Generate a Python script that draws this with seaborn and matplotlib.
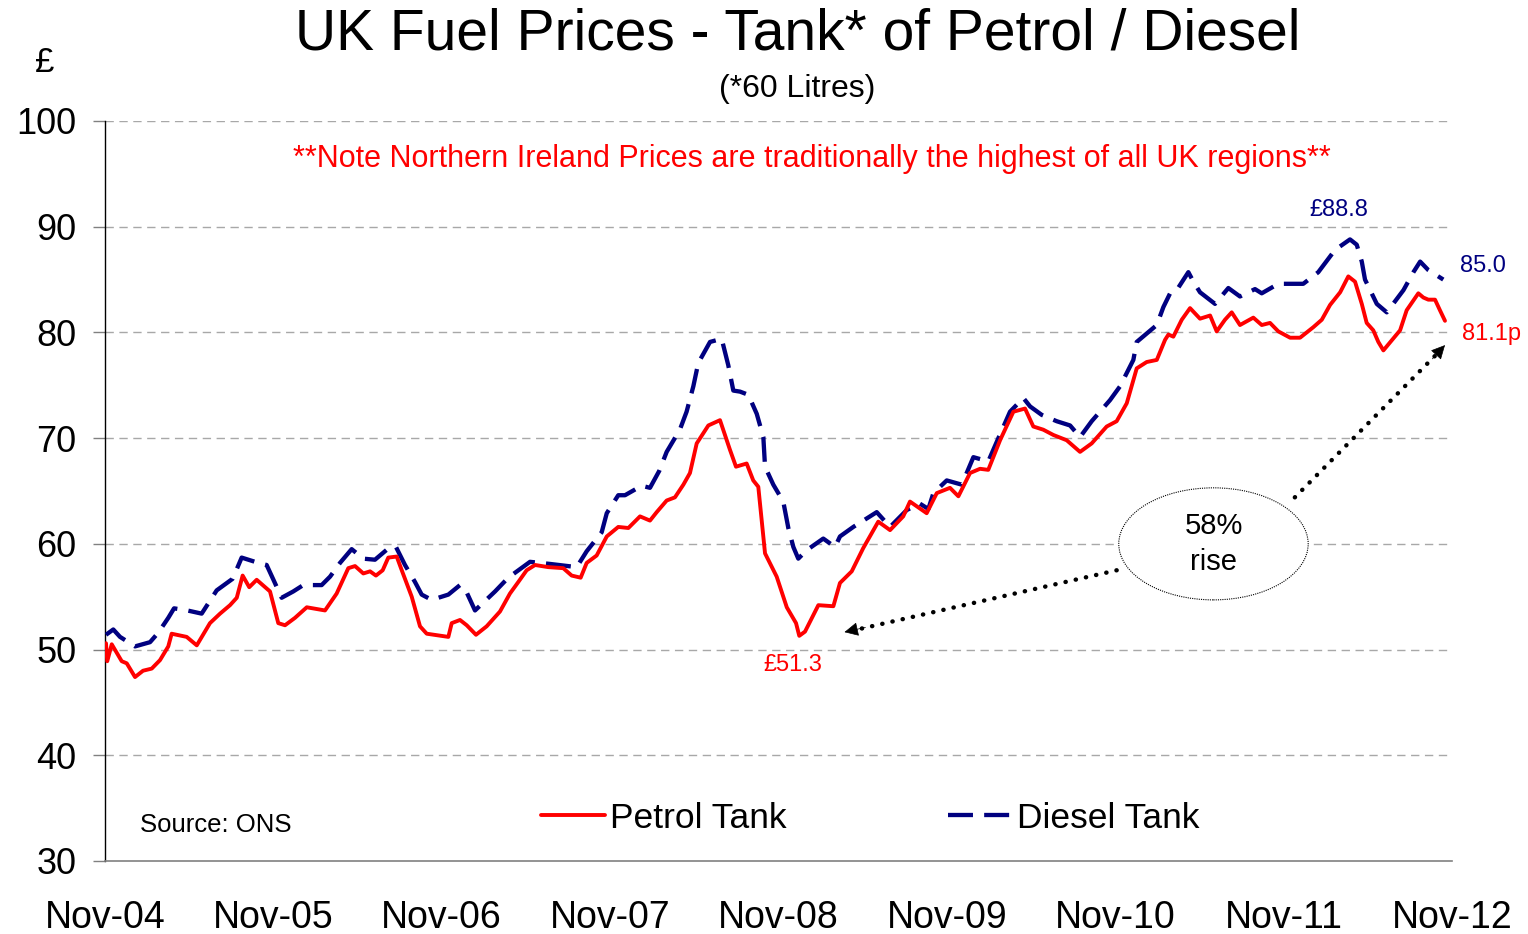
import matplotlib
matplotlib.use("Agg")
import matplotlib.pyplot as plt
from matplotlib.patches import Ellipse
import seaborn as sns
import pandas as pd

# ---- data (months since Nov-2004, £ per 60-litre tank) ----
petrol_month = [0.07, 0.16, 0.48, 1.19, 1.55, 2.14, 2.71, 3.33, 3.92, 4.51, 4.75, 5.82, 6.54, 7.48,
                8.20, 8.91, 9.39, 9.81, 10.28, 10.81, 11.76, 12.35, 12.83, 13.54, 14.38, 15.68,
                16.51, 17.34, 17.82, 18.41, 18.89, 19.31, 19.79, 20.19, 20.79, 21.15, 21.86, 22.45,
                22.93, 24.47, 24.71, 25.30, 25.78, 26.44, 27.20, 28.15, 28.86, 29.46, 30.05, 30.65,
                31.59, 32.66, 33.26, 33.90, 34.33, 35.04, 35.76, 36.58, 37.30, 38.13, 38.84, 39.32,
                40.03, 40.62, 41.22, 41.69, 42.17, 43.00, 43.83, 44.54, 44.97, 45.73, 46.20, 46.56,
                47.04, 47.87, 48.59, 49.25, 49.48, 49.89, 50.84, 51.91, 52.38, 53.22, 54.04, 55.11,
                55.95, 56.89, 57.37, 58.56, 59.28, 60.22, 60.82, 61.65, 62.36, 62.95, 63.79, 64.74,
                65.57, 66.16, 66.87, 67.59, 68.54, 69.49, 70.32, 71.39, 72.10, 72.82, 73.53, 74.24,
                74.96, 75.55, 75.79, 76.14, 76.74, 77.33, 78.04, 78.76, 79.23, 79.82, 80.30, 80.89,
                81.84, 82.44, 83.03, 83.62, 84.46, 85.17, 86.12, 86.72, 87.31, 88.03, 88.61, 89.09,
                89.57, 89.92, 90.39, 90.75, 91.11, 92.30, 92.77, 93.60, 93.96, 94.31, 94.79, 95.14,
                95.50]
petrol_tank = [50.6, 48.9, 50.5, 48.9, 48.7, 47.4, 48.0, 48.2, 49.0, 50.3, 51.5, 51.2, 50.4, 52.5,
               53.4, 54.2, 54.9, 57.0, 55.9, 56.6, 55.5, 52.5, 52.3, 53.0, 54.0, 53.7,
               55.3, 57.7, 57.9, 57.2, 57.4, 57.0, 57.5, 58.7, 58.8, 57.5, 55.0, 52.2,
               51.5, 51.2, 52.5, 52.8, 52.3, 51.4, 52.2, 53.6, 55.3, 56.4, 57.5, 58.0,
               57.8, 57.7, 57.0, 56.8, 58.2, 58.9, 60.7, 61.6, 61.5, 62.6, 62.2, 63.0,
               64.1, 64.4, 65.6, 66.7, 69.5, 71.2, 71.7, 68.9, 67.3, 67.6, 66.0, 65.4,
               59.1, 56.9, 54.0, 52.5, 51.3, 51.7, 54.2, 54.1, 56.3, 57.4, 59.6, 62.1,
               61.3, 62.6, 64.0, 62.9, 64.8, 65.3, 64.5, 66.7, 67.1, 67.0, 69.8, 72.5,
               72.8, 71.1, 70.8, 70.3, 69.8, 68.7, 69.5, 71.1, 71.6, 73.3, 76.6, 77.2,
               77.4, 79.3, 79.8, 79.6, 81.2, 82.3, 81.3, 81.6, 80.1, 81.2, 81.9, 80.7,
               81.4, 80.7, 80.9, 80.1, 79.5, 79.5, 80.5, 81.2, 82.6, 83.8, 85.3, 84.8,
               82.7, 80.9, 80.2, 79.1, 78.3, 80.2, 82.1, 83.7, 83.3, 83.1, 83.1, 82.1,
               81.1]

diesel_month = [0.07, 0.59, 1.07, 2.14, 3.21, 3.80, 4.51, 4.92, 5.87, 6.89, 7.96, 9.10, 9.74, 9.98,
                10.93, 11.52, 12.04, 12.59, 13.42, 14.13, 15.44, 16.04, 16.75, 17.58, 18.41, 19.24,
                20.31, 20.74, 21.38, 22.09, 22.57, 23.28, 24.47, 25.30, 25.78, 26.37, 27.80, 28.74,
                30.29, 31.72, 33.62, 34.33, 35.40, 35.76, 36.58, 37.06, 38.25, 38.84, 39.50, 40.03,
                40.97, 41.45, 41.93, 42.28, 43.12, 43.95, 44.42, 44.78, 45.26, 45.85, 46.45, 46.92,
                47.04, 47.63, 48.34, 48.70, 49.06, 49.41, 50.01, 51.19, 52.03, 52.38, 53.33, 55.00,
                55.95, 57.14, 58.08, 58.68, 59.04, 59.99, 61.06, 61.89, 62.95, 63.67, 64.50, 65.45,
                65.93, 66.76, 67.83, 68.78, 69.49, 70.32, 71.63, 72.34, 73.29, 73.53, 74.96, 75.43,
                75.91, 76.38, 77.21, 77.57, 78.04, 79.11, 80.06, 80.89, 81.96, 82.44, 83.62, 85.40,
                86.47, 87.66, 88.73, 89.21, 89.57, 89.80, 90.64, 91.35, 92.54, 93.25, 93.73, 94.31,
                95.38]
diesel_tank = [51.4, 51.9, 51.2, 50.3, 50.7, 51.6, 53.0, 53.9, 53.7, 53.4, 55.6, 56.7, 58.7, 58.6,
               58.2, 58.0, 56.5, 54.9, 55.5, 56.1, 56.1, 56.9, 58.2, 59.5, 58.6, 58.5,
               59.7, 59.7, 58.0, 56.4, 55.2, 54.7, 55.2, 56.1, 55.4, 53.7, 55.5, 56.8,
               58.3, 58.1, 57.8, 59.3, 61.1, 62.9, 64.6, 64.6, 65.5, 65.3, 66.9, 68.7,
               70.8, 72.5, 74.9, 77.1, 79.1, 79.4, 76.9, 74.5, 74.4, 74.1, 72.3, 70.1,
               67.3, 65.6, 64.0, 61.5, 59.7, 58.6, 59.4, 60.5, 59.7, 60.7, 61.6, 63.0,
               61.6, 63.2, 63.8, 63.3, 64.8, 66.0, 65.6, 68.2, 67.8, 70.0, 72.5, 73.8,
               73.0, 72.2, 71.6, 71.2, 70.1, 71.6, 73.6, 74.9, 77.4, 79.1, 80.7, 82.4,
               83.7, 84.0, 85.7, 84.8, 83.8, 82.7, 84.2, 83.4, 84.1, 83.7, 84.6, 84.6,
               85.7, 87.8, 88.8, 88.3, 86.7, 85.0, 82.7, 81.9, 84.0, 85.7, 86.7, 85.9,
               85.0]

tick_months = [0, 12, 24, 36, 48, 60, 72, 84, 96]
tick_labels = ["Nov-04", "Nov-05", "Nov-06", "Nov-07", "Nov-08", "Nov-09", "Nov-10", "Nov-11", "Nov-12"]
series_names = ["Petrol Tank", "Diesel Tank"]

# ---- plotting ----
sns.set_theme(style="white")
plt.rcParams["font.family"] = ["Liberation Sans", "DejaVu Sans"]
plt.rcParams["text.color"] = "black"

fig = plt.figure(figsize=(15.28, 9.34), dpi=100)
ax = fig.add_axes([105 / 1528, 1 - 861 / 934, (1452 - 105) / 1528, (861 - 121) / 934])

df_p = pd.DataFrame({"month": petrol_month, "price": petrol_tank})
df_d = pd.DataFrame({"month": diesel_month, "price": diesel_tank})

sns.lineplot(data=df_p, x="month", y="price", ax=ax, color="#FF0000", linewidth=2.8,
             label=series_names[0], zorder=4)
sns.lineplot(data=df_d, x="month", y="price", ax=ax, color="#000080", linewidth=3.1,
             label=series_names[1], zorder=3)
ax.lines[1].set_dashes((5.8, 2.6))

ax.set_xlim(0, 96)
ax.set_ylim(30, 100)
ax.set_yticks(range(30, 101, 10))
ax.set_xticks(tick_months)
ax.set_xticklabels(tick_labels)
ax.set_xlabel("")
ax.set_ylabel("")
ax.tick_params(axis="y", labelsize=26, length=8.5, width=1, color="#808080", pad=12,
               left=True, labelcolor="black")
ax.tick_params(axis="x", labelsize=27, length=0, pad=28, labelcolor="black")

for y in range(40, 101, 10):
    ax.axhline(y, color="#a8a8a8", linewidth=1, dashes=(6, 4), zorder=1)

for s in ["top", "right"]:
    ax.spines[s].set_visible(False)
ax.spines["left"].set_color("black")
ax.spines["left"].set_linewidth(1)
ax.spines["bottom"].set_color("#808080")
ax.spines["bottom"].set_linewidth(1.2)

leg = ax.legend(loc="center", bbox_to_anchor=(0.568, 0.058), ncol=2, frameon=False,
                fontsize=25.5, handlelength=1.8, columnspacing=4.55, handletextpad=0.15)
for t in leg.get_texts():
    t.set_color("black")

# titles and texts
fig.text(0.522, 1 - 35 / 934, "UK Fuel Prices - Tank* of Petrol / Diesel", ha="center", va="center",
         fontsize=41, color="black")
fig.text(0.522, 1 - 89 / 934, "(*60 Litres)", ha="center", va="center", fontsize=23, color="black")
fig.text(45 / 1528, 1 - 62 / 934, "£", ha="center", va="center", fontsize=25, color="black")

ax.text(0.525, 0.948, "**Note Northern Ireland Prices are traditionally the highest of all UK regions**",
        transform=ax.transAxes, ha="center", va="center", fontsize=22, color="#FF0000")
ax.text(0.026, 0.0486, "Source: ONS", transform=ax.transAxes, ha="left", va="center",
        fontsize=18.5, color="black")

ax.text(87.9, 91.6, "£88.8", ha="center", va="center", fontsize=17, color="#000080")
ax.text(49.0, 48.5, "£51.3", ha="center", va="center", fontsize=17, color="#FF0000")
ax.text(96.55, 86.3, "85.0", ha="left", va="center", fontsize=17, color="#000080", clip_on=False)
ax.text(96.7, 79.85, "81.1p", ha="left", va="center", fontsize=17, color="#FF0000", clip_on=False)

# ellipse annotation
ell = Ellipse((79.0, 60.0), width=13.5, height=10.6, facecolor="white", edgecolor="black",
              linestyle=(0, (1, 1)), linewidth=0.8, zorder=5)
ax.add_patch(ell)
ax.text(79.0, 60.0, "58%\nrise", ha="center", va="center", fontsize=21, color="black",
        linespacing=1.35, zorder=6)

dot_style = dict(arrowstyle="-", color="black", linestyle=(0, (0.05, 2.3)), linewidth=3.2,
                 capstyle="round", shrinkA=0, shrinkB=0)
head_style = dict(arrowstyle="-|>", color="black", linewidth=0.5, mutation_scale=22,
                  shrinkA=0, shrinkB=0)
# lower arrow: ellipse -> petrol low
ax.annotate("", xy=(53.3, 51.8), xytext=(72.1, 57.5), arrowprops=dot_style, zorder=6)
ax.annotate("", xy=(52.7, 51.65), xytext=(54.2, 52.1), arrowprops=head_style, zorder=6)
# upper arrow: ellipse -> latest petrol
ax.annotate("", xy=(94.8, 77.8), xytext=(84.8, 64.4), arrowprops=dot_style, zorder=6,
            annotation_clip=False)
ax.annotate("", xy=(95.5, 78.8), xytext=(94.6, 77.5), arrowprops=head_style, zorder=6,
            annotation_clip=False)

fig.savefig("out.png", dpi=100, facecolor="white")
